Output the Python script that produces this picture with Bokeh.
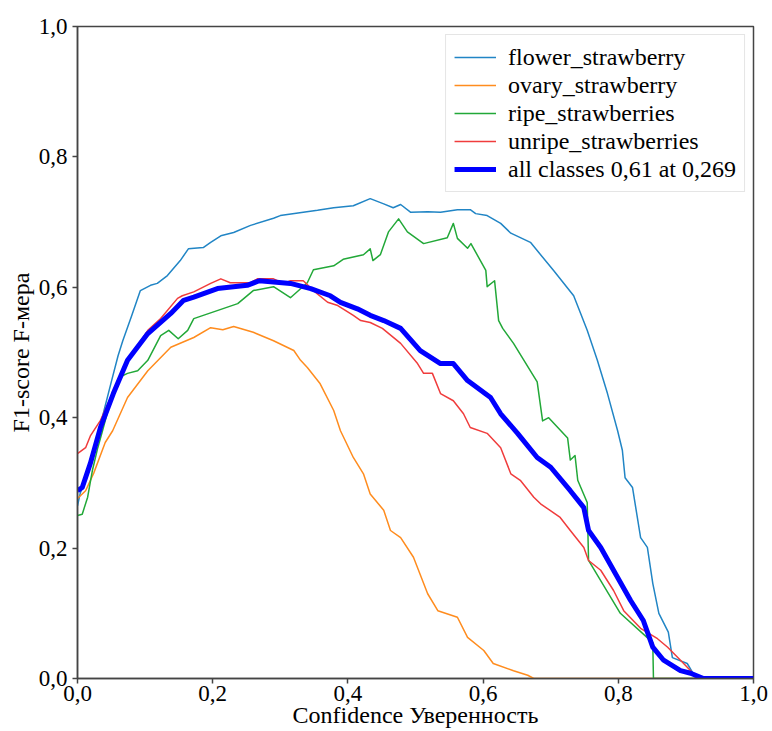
from bokeh.plotting import figure
from bokeh.models import CustomJSTickFormatter, FixedTicker, Legend, LegendItem
from bokeh.embed import file_html
from bokeh.resources import INLINE

ticks = [0.0, 0.2, 0.4, 0.6, 0.8, 1.0]
x_label = "Confidence Уверенность"
y_label = "F1-score F-мера"

flower_x = [0.0, 0.004, 0.012, 0.022, 0.03, 0.038, 0.05, 0.06, 0.067, 0.08, 0.093, 0.108, 0.118, 0.133, 0.152, 0.164, 0.186, 0.197, 0.212, 0.231, 0.256, 0.29, 0.30, 0.334, 0.355, 0.379, 0.408, 0.433, 0.453, 0.467, 0.478, 0.493, 0.518, 0.537, 0.562, 0.581, 0.589, 0.606, 0.626, 0.641, 0.670, 0.704, 0.734, 0.754, 0.769, 0.784, 0.799, 0.806, 0.810, 0.821, 0.833, 0.843, 0.851, 0.860, 0.874, 0.880, 0.902, 0.910, 0.92, 1.0]
flower_y = [0.265, 0.284, 0.305, 0.334, 0.37, 0.406, 0.455, 0.495, 0.518, 0.556, 0.595, 0.603, 0.606, 0.618, 0.641, 0.659, 0.661, 0.669, 0.679, 0.684, 0.695, 0.706, 0.710, 0.715, 0.718, 0.722, 0.725, 0.736, 0.728, 0.722, 0.727, 0.715, 0.716, 0.715, 0.719, 0.719, 0.713, 0.710, 0.698, 0.683, 0.669, 0.626, 0.587, 0.534, 0.488, 0.437, 0.380, 0.350, 0.308, 0.293, 0.216, 0.201, 0.146, 0.100, 0.071, 0.032, 0.023, 0.009, 0.0, 0.0]

ovary_x = [0.0, 0.012, 0.024, 0.041, 0.052, 0.074, 0.104, 0.138, 0.172, 0.197, 0.215, 0.231, 0.26, 0.29, 0.32, 0.33, 0.34, 0.359, 0.379, 0.389, 0.408, 0.423, 0.433, 0.453, 0.463, 0.478, 0.497, 0.518, 0.533, 0.562, 0.577, 0.601, 0.615, 0.645, 0.666, 0.675, 1.0]
ovary_y = [0.276, 0.288, 0.315, 0.362, 0.38, 0.431, 0.472, 0.508, 0.523, 0.538, 0.535, 0.540, 0.531, 0.518, 0.503, 0.488, 0.477, 0.452, 0.411, 0.380, 0.339, 0.314, 0.283, 0.258, 0.227, 0.216, 0.186, 0.130, 0.104, 0.094, 0.063, 0.043, 0.023, 0.012, 0.005, 0.0, 0.0]

ripe_x = [0.0, 0.007, 0.015, 0.022, 0.030, 0.037, 0.05, 0.062, 0.074, 0.089, 0.104, 0.123, 0.135, 0.149, 0.163, 0.172, 0.237, 0.260, 0.290, 0.315, 0.340, 0.349, 0.379, 0.393, 0.423, 0.433, 0.437, 0.448, 0.460, 0.475, 0.488, 0.512, 0.547, 0.556, 0.562, 0.577, 0.582, 0.604, 0.606, 0.617, 0.623, 0.629, 0.645, 0.680, 0.688, 0.697, 0.725, 0.729, 0.736, 0.740, 0.754, 0.756, 0.803, 0.851, 0.852, 1.0]
ripe_y = [0.250, 0.252, 0.278, 0.319, 0.354, 0.380, 0.43, 0.462, 0.468, 0.472, 0.488, 0.526, 0.534, 0.521, 0.534, 0.552, 0.575, 0.595, 0.601, 0.584, 0.607, 0.627, 0.633, 0.643, 0.650, 0.659, 0.641, 0.650, 0.685, 0.705, 0.685, 0.667, 0.676, 0.698, 0.675, 0.660, 0.667, 0.626, 0.601, 0.610, 0.549, 0.537, 0.514, 0.455, 0.395, 0.400, 0.369, 0.335, 0.342, 0.304, 0.270, 0.181, 0.100, 0.055, 0.0, 0.0]

unripe_x = [0.0, 0.012, 0.019, 0.034, 0.049, 0.074, 0.104, 0.123, 0.148, 0.155, 0.172, 0.197, 0.212, 0.226, 0.256, 0.266, 0.29, 0.305, 0.315, 0.334, 0.349, 0.370, 0.385, 0.408, 0.419, 0.433, 0.451, 0.478, 0.503, 0.512, 0.525, 0.537, 0.556, 0.571, 0.581, 0.606, 0.626, 0.641, 0.655, 0.675, 0.685, 0.714, 0.729, 0.749, 0.756, 0.774, 0.793, 0.808, 0.833, 0.858, 0.873, 0.892, 0.907, 0.915, 1.0]
unripe_y = [0.345, 0.354, 0.372, 0.396, 0.431, 0.488, 0.534, 0.552, 0.583, 0.587, 0.593, 0.606, 0.613, 0.607, 0.607, 0.613, 0.613, 0.606, 0.610, 0.610, 0.595, 0.577, 0.572, 0.557, 0.549, 0.546, 0.537, 0.514, 0.483, 0.468, 0.468, 0.437, 0.426, 0.406, 0.385, 0.376, 0.354, 0.314, 0.304, 0.278, 0.268, 0.247, 0.227, 0.201, 0.181, 0.166, 0.135, 0.104, 0.077, 0.061, 0.048, 0.028, 0.012, 0.0, 0.0]

all_x = [0.0, 0.007, 0.019, 0.034, 0.053, 0.074, 0.104, 0.138, 0.157, 0.172, 0.207, 0.251, 0.269, 0.29, 0.315, 0.345, 0.374, 0.389, 0.414, 0.433, 0.453, 0.478, 0.507, 0.537, 0.556, 0.577, 0.611, 0.626, 0.651, 0.680, 0.700, 0.729, 0.749, 0.756, 0.774, 0.799, 0.818, 0.837, 0.851, 0.867, 0.892, 0.907, 0.926, 1.0]
all_y = [0.288, 0.293, 0.330, 0.385, 0.437, 0.488, 0.529, 0.560, 0.580, 0.585, 0.598, 0.603, 0.610, 0.608, 0.606, 0.598, 0.587, 0.577, 0.567, 0.557, 0.549, 0.537, 0.503, 0.483, 0.483, 0.457, 0.431, 0.406, 0.376, 0.339, 0.324, 0.288, 0.262, 0.227, 0.201, 0.155, 0.120, 0.089, 0.048, 0.028, 0.012, 0.008, 0.0, 0.0]

series = [
    ("flower_strawberry", flower_x, flower_y, "#2185c5", 1.5),
    ("ovary_strawberry", ovary_x, ovary_y, "#ff8c1e", 1.5),
    ("ripe_strawberries", ripe_x, ripe_y, "#22a838", 1.5),
    ("unripe_strawberries", unripe_x, unripe_y, "#f03c3c", 1.5),
    ("all classes 0,61 at 0,269", all_x, all_y, "#0000ff", 5),
]

FONT = "Liberation Serif"

p = figure(width=772, height=731, x_range=(0, 1), y_range=(0, 1),
           output_backend="svg", toolbar_location=None,
           min_border_left=77, min_border_right=19, min_border_top=26, min_border_bottom=53)
p.grid.visible = False
p.outline_line_color = "#444444"
p.outline_line_width = 1.5
p.background_fill_color = "white"
p.border_fill_color = "white"

for ax in (p.xaxis[0], p.yaxis[0]):
    ax.ticker = FixedTicker(ticks=ticks)
    ax.formatter = CustomJSTickFormatter(code="return tick.toFixed(1).replace('.', ',');")
    ax.minor_tick_line_color = None
    ax.major_tick_in = 0
    ax.major_tick_out = 5
    ax.axis_line_color = "#444444"
    ax.axis_line_width = 1.5
    ax.major_tick_line_color = "#444444"
    ax.major_tick_line_width = 1.5
    ax.major_label_text_font = FONT
    ax.major_label_text_font_size = "23px"
    ax.major_label_text_color = "black"
    ax.axis_label_text_font = FONT
    ax.axis_label_text_font_size = "24px"
    ax.axis_label_text_font_style = "normal"
    ax.axis_label_text_color = "black"

p.xaxis[0].axis_label = x_label
p.yaxis[0].axis_label = y_label
p.xaxis[0].major_label_standoff = 2
p.xaxis[0].axis_label_standoff = -2
p.yaxis[0].major_label_standoff = 5
p.yaxis[0].axis_label_standoff = 2

items = []
for name, xs, ys, col, lw in series:
    r = p.line(xs, ys, line_color=col, line_width=lw, line_join="round")
    items.append(LegendItem(label=name, renderers=[r]))

legend = Legend(items=items, location="top_right")
legend.margin = 8
legend.padding = 8
legend.spacing = 0
legend.label_height = 28
legend.glyph_height = 28
legend.glyph_width = 42
legend.label_standoff = 12
legend.label_text_font = FONT
legend.label_text_font_size = "24px"
legend.label_text_color = "black"
legend.border_line_color = "#cccccc"
legend.border_line_width = 1.2
legend.background_fill_color = "white"
legend.background_fill_alpha = 0.8
p.add_layout(legend)

open("out.html", "w").write(file_html(p, INLINE))
